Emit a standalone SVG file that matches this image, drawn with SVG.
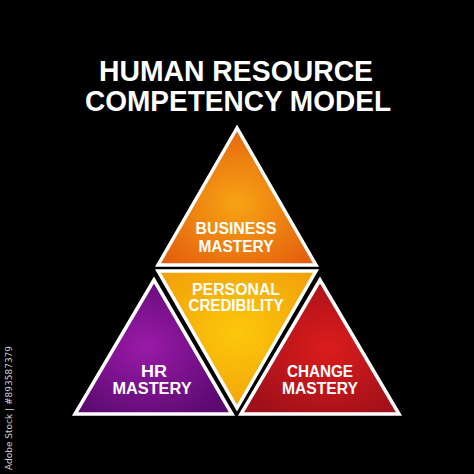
<svg xmlns="http://www.w3.org/2000/svg" width="474" height="474" viewBox="0 0 474 474">
<defs>
<radialGradient id="gOrange" cx="50%" cy="55%" r="60%">
<stop offset="0" stop-color="#f7a414"/><stop offset="1" stop-color="#e4600e"/>
</radialGradient>
<radialGradient id="gYellow" cx="50%" cy="45%" r="60%">
<stop offset="0" stop-color="#fcc80a"/><stop offset="1" stop-color="#f2a20a"/>
</radialGradient>
<radialGradient id="gPurple" cx="45%" cy="50%" r="60%">
<stop offset="0" stop-color="#9a1aa8"/><stop offset="1" stop-color="#5c0a72"/>
</radialGradient>
<radialGradient id="gRed" cx="55%" cy="50%" r="60%">
<stop offset="0" stop-color="#dc1c1c"/><stop offset="1" stop-color="#a0101a"/>
</radialGradient>
</defs>
<style>
.tri{stroke:#ffffff;stroke-width:3.5;stroke-linejoin:miter}
.title{font-family:"Liberation Sans",Arial,sans-serif;font-weight:bold;font-size:29px;fill:#ffffff;text-anchor:middle}
.lbl{font-family:"Liberation Sans",Arial,sans-serif;font-weight:bold;font-size:16px;fill:#ffffff;text-anchor:middle}
.side{font-family:"DejaVu Sans",sans-serif;font-size:9px;fill:#cfcfcf}
</style>
<rect width="474" height="474" fill="#000000"/>
<text class="side" transform="translate(12,470) rotate(-90)">Adobe Stock | #893587379</text>
<g id="title">
<text class="title" x="236" y="81" textLength="274" lengthAdjust="spacingAndGlyphs">HUMAN RESOURCE</text>
<text class="title" x="238" y="111" textLength="306" lengthAdjust="spacingAndGlyphs">COMPETENCY MODEL</text>
</g>
<g id="business">
<polygon class="tri" points="237,128 158,265 316,265" fill="url(#gOrange)"/>
<text class="lbl" x="236" y="234" textLength="81" lengthAdjust="spacingAndGlyphs">BUSINESS</text>
<text class="lbl" x="236" y="252" textLength="75" lengthAdjust="spacingAndGlyphs">MASTERY</text>
</g>
<g id="personal">
<polygon class="tri" points="158,271 316,271 237,408" fill="url(#gYellow)"/>
<text class="lbl" x="236" y="295" textLength="88" lengthAdjust="spacingAndGlyphs">PERSONAL</text>
<text class="lbl" x="236" y="311" textLength="95" lengthAdjust="spacingAndGlyphs">CREDIBILITY</text>
</g>
<g id="hr">
<polygon class="tri" points="154,280 75,414 232,414" fill="url(#gPurple)"/>
<text class="lbl" x="154" y="377" textLength="26" lengthAdjust="spacingAndGlyphs">HR</text>
<text class="lbl" x="152" y="394" textLength="79" lengthAdjust="spacingAndGlyphs">MASTERY</text>
</g>
<g id="change">
<polygon class="tri" points="320,280 241,414 399,414" fill="url(#gRed)"/>
<text class="lbl" x="320" y="377" textLength="66" lengthAdjust="spacingAndGlyphs">CHANGE</text>
<text class="lbl" x="320" y="394" textLength="76" lengthAdjust="spacingAndGlyphs">MASTERY</text>
</g>
</svg>
